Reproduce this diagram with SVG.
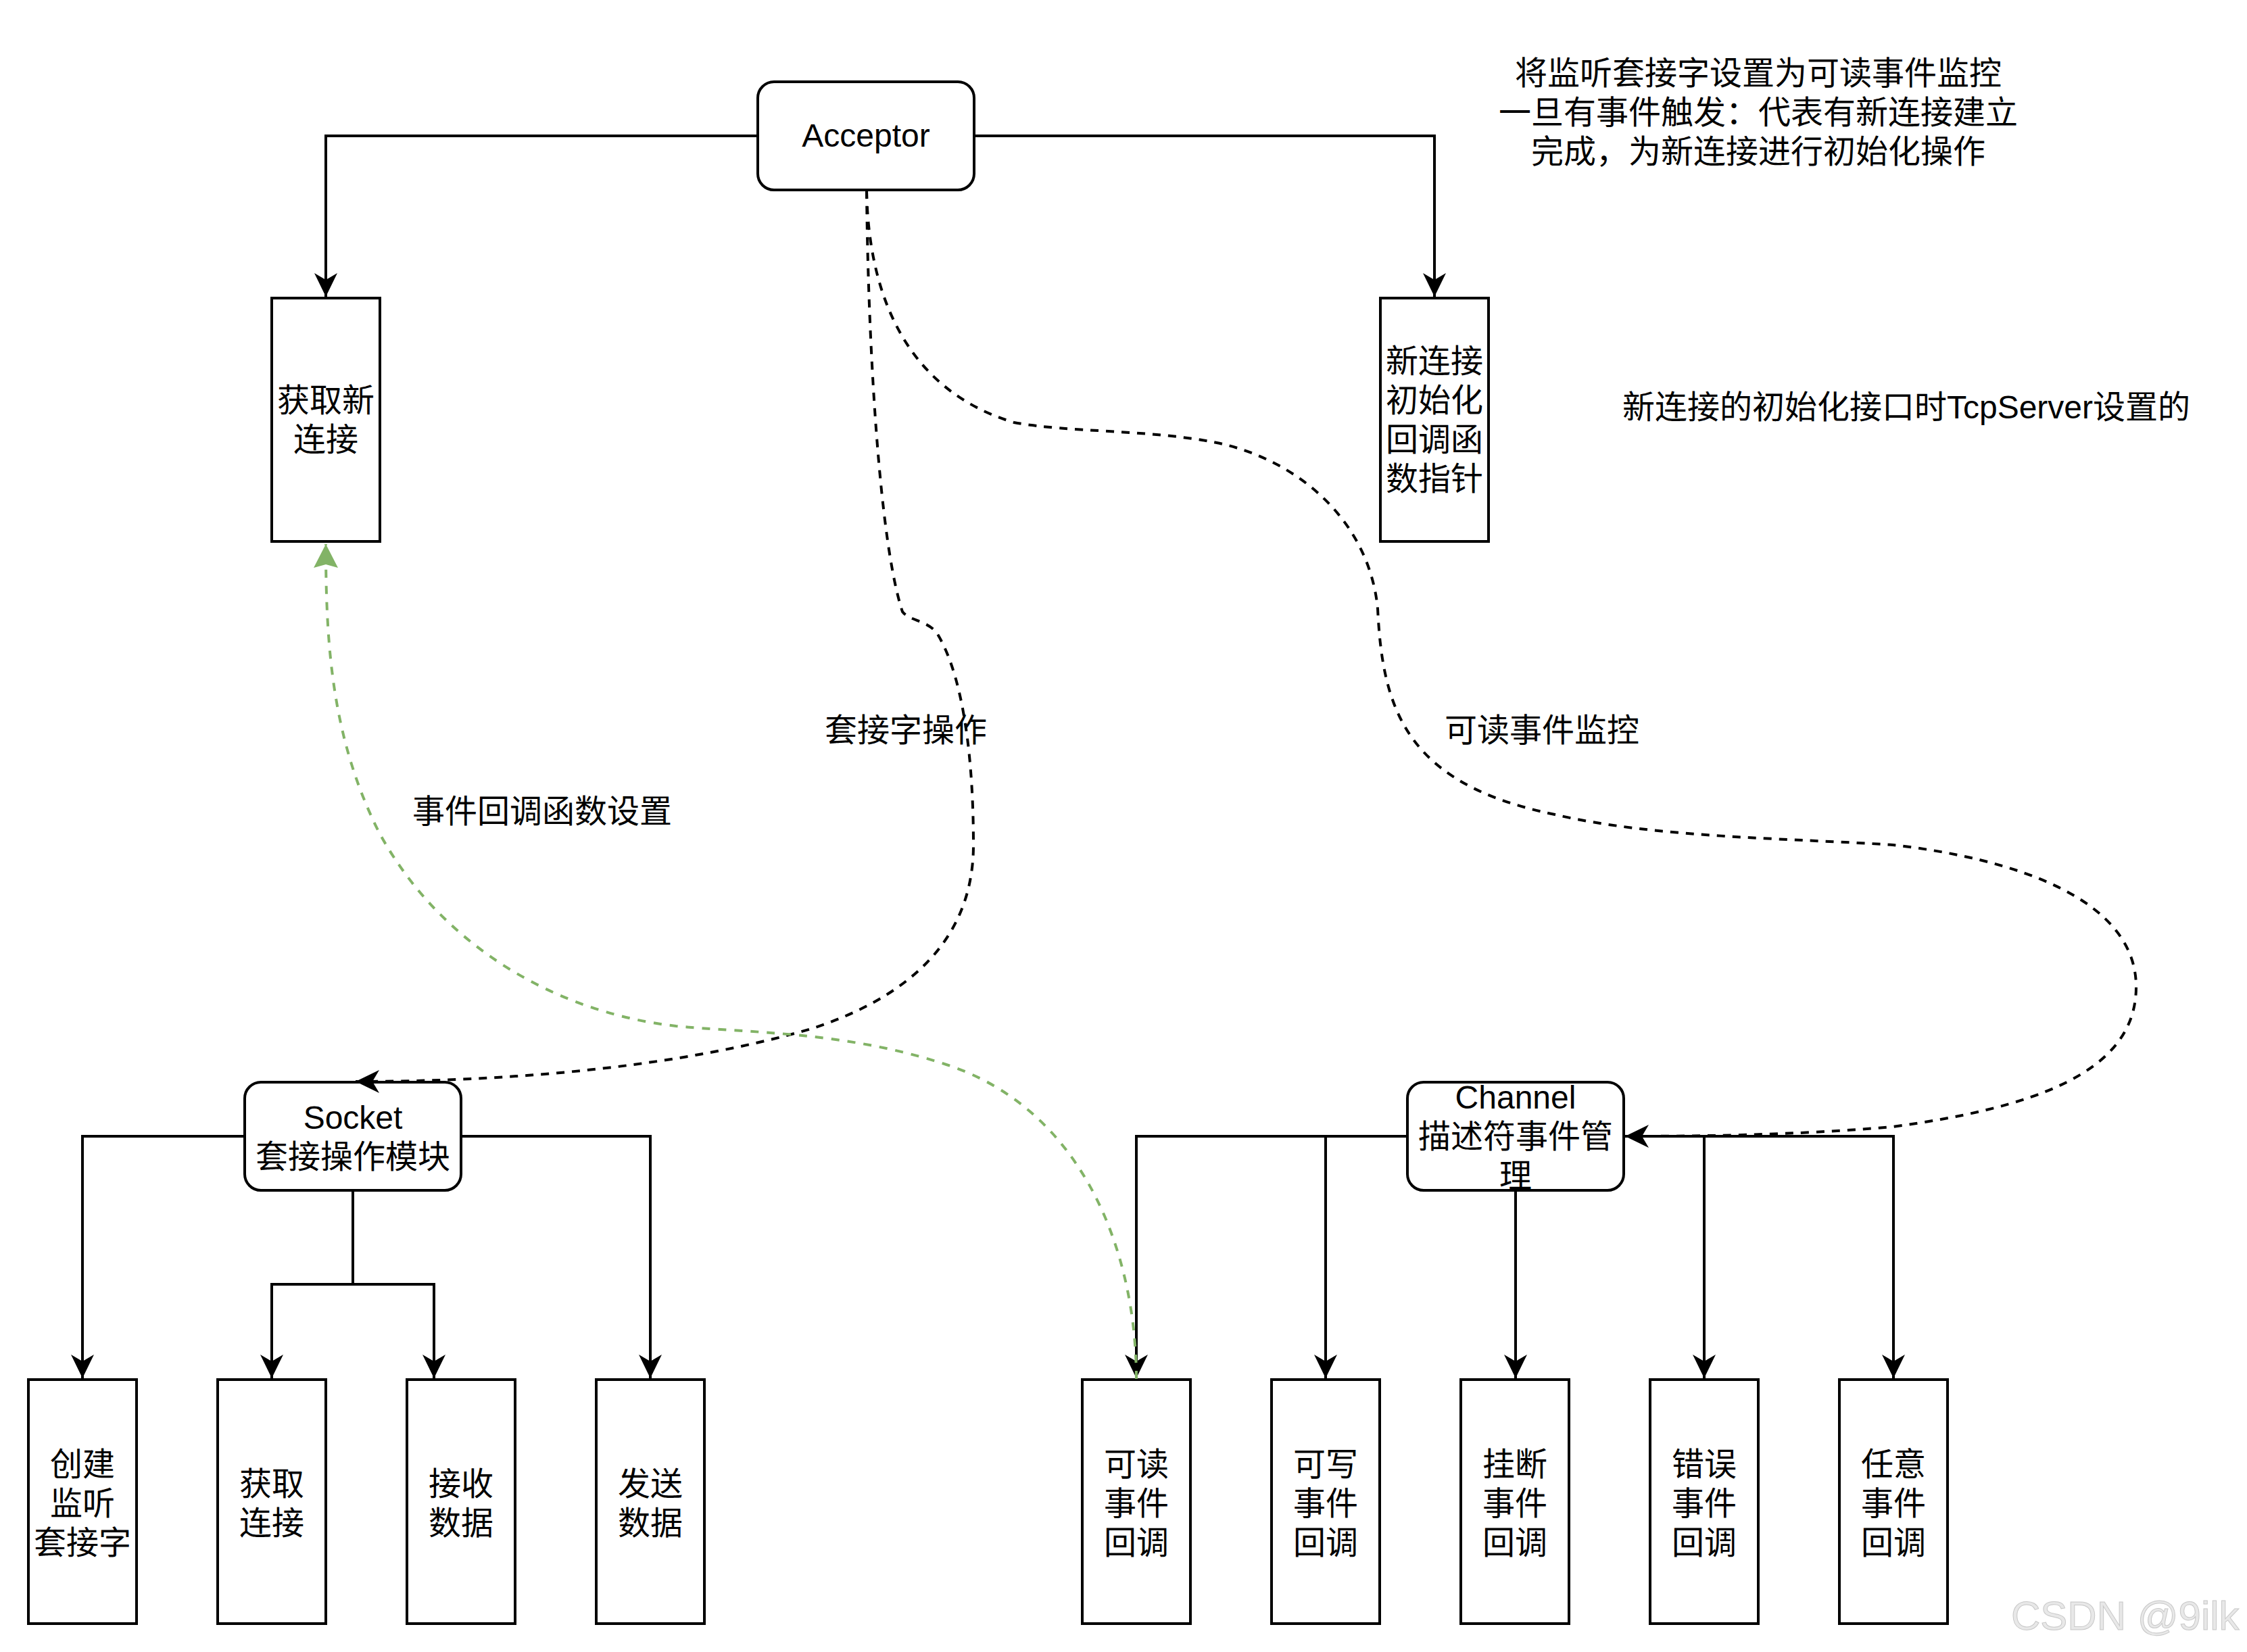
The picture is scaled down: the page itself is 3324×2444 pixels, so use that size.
<svg xmlns="http://www.w3.org/2000/svg" width="3324" height="2444" viewBox="0 0 3324 2444">
<style>
.box{fill:#ffffff;stroke:#000000;stroke-width:4}
.t{font-family:"Liberation Sans",Arial,"Noto Sans CJK SC",sans-serif;font-size:48px;fill:#000000;text-anchor:middle}
.edge{fill:none;stroke:#000000;stroke-width:4}
.dash{fill:none;stroke:#000000;stroke-width:4;stroke-dasharray:12 11}
.green{fill:none;stroke:#82b366;stroke-width:4;stroke-dasharray:12 12}
.wm{font-family:"Liberation Sans",Arial,sans-serif;font-size:60px;fill:#e8e8e8;stroke:#c8c8c8;stroke-width:1}
</style>
<defs>
<marker id="arr" markerUnits="userSpaceOnUse" viewBox="-36 -18 38 36" markerWidth="38" markerHeight="36" refX="0" refY="0" orient="auto">
<path d="M0,0 L-35,-17 L-25,0 L-35,17 Z" fill="#000000"/>
</marker>
<marker id="garr" markerUnits="userSpaceOnUse" viewBox="-36 -18 38 36" markerWidth="38" markerHeight="36" refX="0" refY="0" orient="auto">
<path d="M0,0 L-35,-18 L-30,0 L-35,18 Z" fill="#82b366"/>
</marker>
</defs>
<rect x="0" y="0" width="3324" height="2444" fill="#ffffff"/>

<g id="acceptor">
<rect class="box" x="1121" y="121" width="320" height="160" rx="24"/>
<text class="t" x="1281" y="217">Acceptor</text>
</g>
<g id="get-new-conn">
<rect class="box" x="402" y="441" width="160" height="360"/>
<text class="t" x="482" y="609">获取新</text>
<text class="t" x="482" y="667">连接</text>
</g>
<g id="new-conn-init-cb">
<rect class="box" x="2042" y="441" width="160" height="360"/>
<text class="t" x="2122" y="551">新连接</text>
<text class="t" x="2122" y="609">初始化</text>
<text class="t" x="2122" y="667">回调函</text>
<text class="t" x="2122" y="725">数指针</text>
</g>
<g id="note-top">
<text class="t" x="2601" y="125">将监听套接字设置为可读事件监控</text>
<text class="t" x="2601" y="183">一旦有事件触发：代表有新连接建立</text>
<text class="t" x="2601" y="241">完成，为新连接进行初始化操作</text>
</g>
<g id="note-tcpserver">
<text class="t" x="2820" y="619">新连接的初始化接口时TcpServer设置的</text>
</g>

<g id="socket">
<rect class="box" x="362" y="1601" width="320" height="160" rx="24"/>
<text class="t" x="522" y="1670">Socket</text>
<text class="t" x="522" y="1728">套接操作模块</text>
</g>
<g id="create-listen">
<rect class="box" x="42" y="2041" width="160" height="361"/>
<text class="t" x="122" y="2183">创建</text>
<text class="t" x="122" y="2241">监听</text>
<text class="t" x="122" y="2299">套接字</text>
</g>
<g id="get-conn">
<rect class="box" x="322" y="2041" width="160" height="361"/>
<text class="t" x="402" y="2212">获取</text>
<text class="t" x="402" y="2270">连接</text>
</g>
<g id="recv-data">
<rect class="box" x="602" y="2041" width="160" height="361"/>
<text class="t" x="682" y="2212">接收</text>
<text class="t" x="682" y="2270">数据</text>
</g>
<g id="send-data">
<rect class="box" x="882" y="2041" width="160" height="361"/>
<text class="t" x="962" y="2212">发送</text>
<text class="t" x="962" y="2270">数据</text>
</g>

<g id="channel">
<rect class="box" x="2082" y="1601" width="320" height="160" rx="24"/>
<text class="t" x="2242" y="1640">Channel</text>
<text class="t" x="2242" y="1698">描述符事件管</text>
<text class="t" x="2242" y="1756">理</text>
</g>
<g id="read-cb">
<rect class="box" x="1601" y="2041" width="160" height="361"/>
<text class="t" x="1681" y="2183">可读</text>
<text class="t" x="1681" y="2241">事件</text>
<text class="t" x="1681" y="2299">回调</text>
</g>
<g id="write-cb">
<rect class="box" x="1881" y="2041" width="160" height="361"/>
<text class="t" x="1961" y="2183">可写</text>
<text class="t" x="1961" y="2241">事件</text>
<text class="t" x="1961" y="2299">回调</text>
</g>
<g id="hangup-cb">
<rect class="box" x="2161" y="2041" width="160" height="361"/>
<text class="t" x="2241" y="2183">挂断</text>
<text class="t" x="2241" y="2241">事件</text>
<text class="t" x="2241" y="2299">回调</text>
</g>
<g id="error-cb">
<rect class="box" x="2441" y="2041" width="160" height="361"/>
<text class="t" x="2521" y="2183">错误</text>
<text class="t" x="2521" y="2241">事件</text>
<text class="t" x="2521" y="2299">回调</text>
</g>
<g id="any-cb">
<rect class="box" x="2721" y="2041" width="160" height="361"/>
<text class="t" x="2801" y="2183">任意</text>
<text class="t" x="2801" y="2241">事件</text>
<text class="t" x="2801" y="2299">回调</text>
</g>

<g id="connectors">
<path class="edge" d="M1121,201 H482 V439" marker-end="url(#arr)"/>
<path class="edge" d="M1441,201 H2122 V439" marker-end="url(#arr)"/>
<path class="edge" d="M362,1681 H122 V2039" marker-end="url(#arr)"/>
<path class="edge" d="M682,1681 H962 V2039" marker-end="url(#arr)"/>
<path class="edge" d="M522,1762 V1900 H402 V2039" marker-end="url(#arr)"/>
<path class="edge" d="M522,1762 V1900 H642 V2039" marker-end="url(#arr)"/>
<path class="edge" d="M2082,1681 H1681 V2039" marker-end="url(#arr)"/>
<path class="edge" d="M2082,1681 H1961 V2039" marker-end="url(#arr)"/>
<path class="edge" d="M2242,1762 V2039" marker-end="url(#arr)"/>
<path class="edge" d="M2402,1681 H2521 V2039" marker-end="url(#arr)"/>
<path class="edge" d="M2402,1681 H2801 V2039" marker-end="url(#arr)"/>
<path class="dash" d="M1282,282 C1284,500 1300,800 1335,905 C1345,918 1370,918 1385,935 C1420,990 1440,1100 1440,1250 C1440,1400 1330,1480 1200,1522 C1000,1580 750,1600 526,1600" marker-end="url(#arr)"/>
<path class="dash" d="M1282,282 C1285,450 1350,580 1500,625 C1580,640 1700,635 1800,655 C1920,680 2025,770 2038,900 C2045,1050 2080,1160 2300,1205 C2450,1240 2650,1240 2800,1250 C2980,1270 3160,1330 3160,1460 C3160,1590 3000,1640 2800,1667 C2650,1680 2500,1681 2404,1681" marker-end="url(#arr)"/>
<path class="green" d="M1681,2040 C1681,1850 1600,1640 1400,1575 C1250,1525 1100,1528 1000,1518 C800,1495 640,1380 560,1230 C490,1090 482,950 482,805" marker-end="url(#garr)"/>
<text class="t" x="1340" y="1097">套接字操作</text>
<text class="t" x="802" y="1217">事件回调函数设置</text>
<text class="t" x="2281" y="1097">可读事件监控</text>
</g>

<text class="wm" x="2975" y="2411">CSDN @9ilk</text>
</svg>
